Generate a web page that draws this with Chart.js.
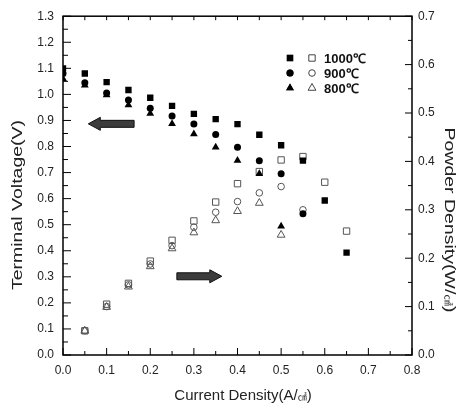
<!DOCTYPE html>
<html>
<head>
<meta charset="utf-8">
<script src="https://cdn.jsdelivr.net/npm/chart.js@4.4.1/dist/chart.umd.min.js"></script>
<style>
  body { margin: 0; background: #fff; }
  #wrap { width: 459px; height: 404px; }
</style>
</head>
<body>
<div id="wrap"><canvas id="chart"></canvas></div>
<script>
// current density (A/cm2) for each run
const i1000 = [0, 0.05, 0.1, 0.15, 0.2, 0.25, 0.3, 0.35, 0.4, 0.45, 0.5, 0.55, 0.6, 0.65];
const i900 = [0, 0.05, 0.1, 0.15, 0.2, 0.25, 0.3, 0.35, 0.4, 0.45, 0.5, 0.55];
const i800 = [0, 0.05, 0.1, 0.15, 0.2, 0.25, 0.3, 0.35, 0.4, 0.45, 0.5];

// terminal voltage (V), filled marks, left axis
const v1000 = [1.10, 1.08, 1.047, 1.017, 0.987, 0.956, 0.925, 0.905, 0.886, 0.845, 0.805, 0.746, 0.593, 0.393];
const v900 = [1.08, 1.045, 1.005, 0.978, 0.947, 0.917, 0.886, 0.846, 0.797, 0.745, 0.695, 0.542];
const v800 = [1.06, 1.035, 0.998, 0.959, 0.927, 0.887, 0.848, 0.797, 0.746, 0.695, 0.494];

// power density (W/cm2), open marks, right axis (no point at i = 0)
const p1000 = [0.05, 0.105, 0.148, 0.194, 0.237, 0.277, 0.316, 0.354, 0.379, 0.403, 0.41, 0.357, 0.256];
const p900 = [0.05, 0.10, 0.145, 0.188, 0.226, 0.264, 0.295, 0.317, 0.335, 0.348, 0.30];
const p800 = [0.05, 0.099, 0.141, 0.183, 0.22, 0.253, 0.278, 0.297, 0.314, 0.248];

const legendLabels = ['1000℃', '900℃', '800℃'];

// titles, split so the unit glyph can be drawn smaller
const xTitle = ['Current Density(A/', '㎠', ')'];
const yTitle = ['Terminal Voltage(V)'];
const y2Title = ['Powder Density(W/', '㎠', ')'];

// arrows, in data units: [xFrom, xTo, y, axis]
const arrows = [
  [0.163, 0.058, 0.887, 'y'],
  [0.261, 0.364, 0.302, 'y']
];

function pts(xs, ys, skip) {
  const out = [];
  for (let k = 0; k < ys.length; k++) {
    out.push({x: xs[k + skip], y: ys[k]});
  }
  return out;
}

function filled(label, data, style, r) {
  return {
    label: label, data: data, yAxisID: 'y',
    pointStyle: style, pointRadius: r, pointHoverRadius: r,
    backgroundColor: '#000', borderColor: '#000', borderWidth: 0,
    showLine: false, clip: 0
  };
}

function open(label, data, style, r) {
  return {
    label: label, data: data, yAxisID: 'y2',
    pointStyle: style, pointRadius: r, pointHoverRadius: r,
    backgroundColor: 'rgba(0,0,0,0)', borderColor: '#555', borderWidth: 1,
    showLine: false, clip: 0
  };
}

function inwardTicks(ctx, scale, area, side, step, major, minor) {
  const n = Math.round((scale.max - scale.min) / step);
  for (let k = 0; k <= n; k++) {
    const v = scale.min + k * step;
    const len = (k % 2 === 0) ? major : minor;
    const p = scale.getPixelForValue(v);
    ctx.beginPath();
    if (side === 'bottom') { ctx.moveTo(p, area.bottom); ctx.lineTo(p, area.bottom - len); }
    if (side === 'top') { ctx.moveTo(p, area.top); ctx.lineTo(p, area.top + len); }
    if (side === 'left') { ctx.moveTo(area.left, p); ctx.lineTo(area.left + len, p); }
    if (side === 'right') { ctx.moveTo(area.right, p); ctx.lineTo(area.right - len, p); }
    ctx.stroke();
  }
}

function drawArrow(ctx, x0, x1, y) {
  const dir = x1 > x0 ? 1 : -1;
  const headLen = 12, body = 3.5, head = 6.5;
  const xb = x1 - dir * headLen;
  ctx.beginPath();
  ctx.moveTo(x0, y - body);
  ctx.lineTo(xb, y - body);
  ctx.lineTo(xb, y - head);
  ctx.lineTo(x1, y);
  ctx.lineTo(xb, y + head);
  ctx.lineTo(xb, y + body);
  ctx.lineTo(x0, y + body);
  ctx.closePath();
  ctx.fillStyle = '#3c3c3c';
  ctx.fill();
  ctx.strokeStyle = '#111';
  ctx.lineWidth = 1;
  ctx.stroke();
}

// draw a title made of parts; the middle part (unit) in a smaller font
function titleText(ctx, parts, x, y, angle, sx) {
  const big = '15px "Liberation Sans", Arial, sans-serif';
  const small = '9px "Noto Sans CJK KR", sans-serif';
  const fonts = parts.map((p, k) => (k === 1 ? small : big));
  let total = 0;
  const widths = parts.map((p, k) => { ctx.font = fonts[k]; const w = ctx.measureText(p).width; total += w; return w; });
  ctx.save();
  ctx.translate(x, y);
  ctx.rotate(angle);
  ctx.scale(sx, 1);
  ctx.textAlign = 'left';
  ctx.textBaseline = 'alphabetic';
  let cx = -total / 2;
  parts.forEach((p, k) => {
    ctx.font = fonts[k];
    ctx.fillText(p, cx, 5);
    cx += widths[k];
  });
  ctx.restore();
}

const framePlugin = {
  id: 'frame',
  afterDraw(chart) {
    const ctx = chart.ctx;
    const a = chart.chartArea;
    const sx = chart.scales.x, sy = chart.scales.y, sy2 = chart.scales.y2;
    ctx.save();

    // arrows
    arrows.forEach(ar => {
      const sc = chart.scales[ar[3]];
      drawArrow(ctx, sx.getPixelForValue(ar[0]), sx.getPixelForValue(ar[1]), sc.getPixelForValue(ar[2]));
    });

    // frame and inward ticks
    ctx.strokeStyle = '#000';
    ctx.lineWidth = 1.5;
    ctx.strokeRect(a.left, a.top, a.right - a.left, a.bottom - a.top);
    ctx.lineWidth = 1;
    inwardTicks(ctx, sx, a, 'bottom', 0.05, 7, 4);
    inwardTicks(ctx, sx, a, 'top', 0.05, 4, 4);
    inwardTicks(ctx, sy, a, 'left', 0.05, 8, 5);
    inwardTicks(ctx, sy2, a, 'right', 0.05, 7, 4);

    // legend
    const lx = 290, lx2 = 312, tx = 324, ly = [58, 73, 88];
    const styles = ['rect', 'circle', 'triangle'];
    const rads = [4.5, 3.5, 4.5];
    const radsOpen = [4.5, 3.3, 4.5];
    ctx.font = 'bold 13px "Liberation Sans Narrow", "Liberation Sans", Arial, sans-serif';
    ctx.textBaseline = 'middle';
    ctx.textAlign = 'left';
    for (let k = 0; k < 3; k++) {
      ctx.fillStyle = '#000';
      ctx.strokeStyle = '#000';
      ctx.lineWidth = 0;
      Chart.helpers.drawPoint(ctx, {pointStyle: styles[k], radius: rads[k], borderWidth: 0}, lx, ly[k]);
      ctx.fill();
      ctx.fillStyle = 'rgba(0,0,0,0)';
      ctx.strokeStyle = '#444';
      ctx.lineWidth = 1;
      Chart.helpers.drawPoint(ctx, {pointStyle: styles[k], radius: radsOpen[k], borderWidth: 1}, lx2, ly[k]);
      ctx.fillStyle = '#111';
      ctx.fillText(legendLabels[k], tx, ly[k] + 1);
    }

    // axis titles
    ctx.fillStyle = '#222';
    titleText(ctx, xTitle, 243, 395, 0, 1);
    titleText(ctx, yTitle, 17, 205, -Math.PI / 2, 1.3);
    titleText(ctx, y2Title, 450, 220, Math.PI / 2, 1.3);
    ctx.restore();
  }
};

const tickFont = {family: '"Liberation Sans", Arial, sans-serif', size: 12};

const config = {
  type: 'scatter',
  data: {
    datasets: [
      filled('1000 V', pts(i1000, v1000, 0), 'rect', 4.5),
      filled('900 V', pts(i900, v900, 0), 'circle', 3.5),
      filled('800 V', pts(i800, v800, 0), 'triangle', 4.5),
      open('1000 P', pts(i1000, p1000, 1), 'rect', 4.5),
      open('900 P', pts(i900, p900, 1), 'circle', 3.3),
      open('800 P', pts(i800, p800, 1), 'triangle', 4.5)
    ]
  },
  options: {
    responsive: true,
    maintainAspectRatio: false,
    animation: false,
    layout: { padding: {top: 15, left: 0, right: 0, bottom: 0} },
    plugins: { legend: { display: false }, tooltip: { enabled: false } },
    scales: {
      x: {
        type: 'linear', min: 0, max: 0.8,
        grid: { display: false, drawTicks: false },
        border: { display: false },
        ticks: { stepSize: 0.1, padding: 8, color: '#222', font: tickFont,
          callback: v => v.toFixed(1) },
        afterFit: s => { s.height = 49; }
      },
      y: {
        position: 'left', min: 0, max: 1.3,
        grid: { display: false, drawTicks: false },
        border: { display: false },
        ticks: { stepSize: 0.1, padding: 9, color: '#222', font: tickFont,
          callback: v => v.toFixed(1) },
        afterFit: s => { s.width = 63; }
      },
      y2: {
        position: 'right', min: 0, max: 0.7,
        grid: { display: false, drawTicks: false },
        border: { display: false },
        ticks: { stepSize: 0.1, padding: 6, color: '#222', font: tickFont,
          callback: v => v.toFixed(1) },
        afterFit: s => { s.width = 47; }
      }
    }
  },
  plugins: [framePlugin]
};

new Chart(document.getElementById('chart').getContext('2d'), config);
</script>
</body>
</html>
